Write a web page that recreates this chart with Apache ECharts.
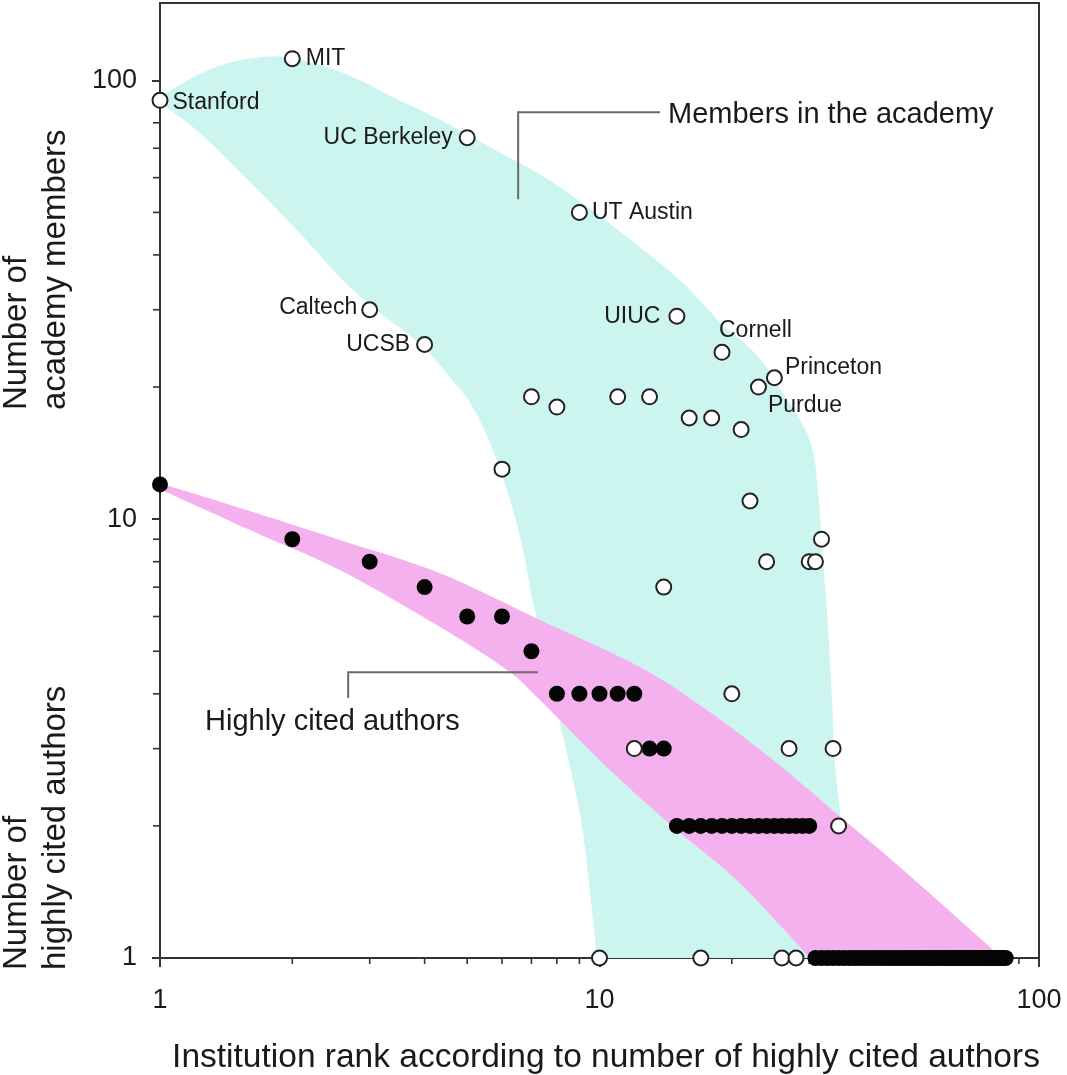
<!DOCTYPE html>
<html><head><meta charset="utf-8">
<script src="https://cdn.jsdelivr.net/npm/echarts@6/dist/echarts.min.js"></script>
<style>html,body{margin:0;padding:0;background:#fff}#c{width:1067px;height:1075px}</style>
</head><body><div id="c"></div>
<script>
const FONT = '"Liberation Sans", Arial, Helvetica, sans-serif';

// Academy members (open circles): institution rank vs number of academy members
const academyRanks   = [1, 2, 3, 4, 5, 6, 7, 8, 9, 10, 11, 12, 13, 14, 15, 16, 17, 18, 19, 20, 21, 22, 23, 24, 25, 26, 27, 28, 30, 31, 32, 34, 35];
const academyMembers = [90, 112, 30, 25, 74, 13, 19, 18, 50, 1, 19, 3, 19, 7, 29, 17, 1, 17, 24, 4, 16, 11, 20, 8, 21, 1, 3, 1, 8, 8, 9, 3, 2];
const academyNames   = ['Stanford', 'MIT', 'Caltech', 'UCSB', 'UC Berkeley', '', '', '', 'UT Austin', '', '', '', '', '', 'UIUC', '', '', '', 'Cornell', '', '', '', 'Purdue', '', 'Princeton', '', '', '', '', '', '', '', ''];

// Highly cited authors (filled dots)
const citedRanks = [1, 2, 3, 4, 5, 6, 7, 8, 9, 10, 11, 12, 13, 14, 15, 16, 17, 18, 19, 20,
  21, 22, 23, 24, 25, 26, 27, 28, 29, 30, 31, 32, 33, 34, 35, 36, 37, 38, 39, 40,
  41, 42, 43, 44, 45, 46, 47, 48, 49, 50, 51, 52, 53, 54, 55, 56, 57, 58, 59, 60,
  61, 62, 63, 64, 65, 66, 67, 68, 69, 70, 71, 72, 73, 74, 75, 76, 77, 78, 79, 80,
  81, 82, 83, 84];
const citedAuthors = [12, 9, 8, 7, 6, 6, 5, 4, 4, 4, 4, 4, 3, 3, 2, 2, 2, 2, 2, 2,
  2, 2, 2, 2, 2, 2, 2, 2, 2, 2, 1, 1, 1, 1, 1, 1, 1, 1, 1, 1,
  1, 1, 1, 1, 1, 1, 1, 1, 1, 1, 1, 1, 1, 1, 1, 1, 1, 1, 1, 1,
  1, 1, 1, 1, 1, 1, 1, 1, 1, 1, 1, 1, 1, 1, 1, 1, 1, 1, 1, 1,
  1, 1, 1, 1];

// Shaded envelopes: outer and inner edges, each from the left tip to the bottom axis ([rank, count])
const academyBandUpper = [
  [1, 91.5], [1.189, 101.6], [1.42, 109.3], [1.689, 112.8], [1.945, 112.8], [2.399, 107.1], [2.852, 100],
  [3.39, 91.5], [4.051, 84.1], [4.815, 76.9], [5.634, 70.4], [8.13, 57.1], [13.73, 38.3], [16.93, 31.5],
  [18.8, 28.1], [22.83, 23.6], [26.16, 19.36], [30.13, 15.1], [31.42, 11.5], [32.25, 8.07], [33.11, 5.68],
  [33.81, 3.87], [34.35, 2.72], [35.26, 2.17], [36.2, 1.59], [37.15, 1]
];
const academyBandLower = [
  [1, 88.6], [1.189, 78.2], [1.406, 66.8], [1.689, 55.6], [2.08, 44.8], [2.57, 35.5], [3.05, 30.4],
  [3.65, 26.5], [4.05, 24.2], [4.57, 21.06], [5.15, 17.99], [5.72, 14.36], [6.26, 11.05], [6.7, 8.5],
  [7.06, 6.44], [7.52, 5.03], [8.01, 3.67], [8.57, 2.72], [9.17, 1.93], [9.87, 1]
];
const citedBandUpper = [
  [1, 12.08], [1.602, 10.43], [2.57, 8.96], [4.336, 7.53], [7.32, 5.89], [12.37, 4.6], [17.56, 3.67],
  [24.82, 2.825], [35.26, 2.1], [48.28, 1.61], [78.6, 1.043], [81.5, 1]
];
const citedBandLower = [
  [1, 11.7], [1.602, 9.44], [2.57, 7.65], [4.336, 5.68], [6.16, 4.53], [7.32, 3.87], [10.4, 2.72],
  [14.7, 1.99], [20.88, 1.48], [30.13, 1]
];

// Annotation brackets (data coordinates)
const membersBracket = [[13.73, 84.6], [6.53, 84.6], [6.53, 53.6]];
const membersLabelAt = [14.32, 83.2];
const membersLabel = 'Members in the academy';
const citedBracket = [[7.24, 4.48], [2.68, 4.48], [2.68, 3.91]];
const citedLabelAt = [1.266, 3.45];
const citedLabel = 'Highly cited authors';

// Axis ticks
const majorTicks = [1, 10, 100];
const xMinorTicks = [2, 3, 4, 5, 6, 7, 8, 9, 20, 30, 40, 50, 60, 70, 80, 90];
const yMinorTicks = [2, 3, 4, 5, 6, 7, 8, 9, 20, 30, 40, 50, 60, 70, 80, 90];

const xTitle = 'Institution rank according to number of highly cited authors';
const yTitleTop = ['Number of', 'academy members'];
const yTitleBottom = ['Number of', 'highly cited authors'];

const labelPlacement = {
  'Stanford':   {position: 'right', distance: 4, offset: [0, 2]},
  'MIT':        {position: 'right', distance: 5},
  'UC Berkeley':{position: 'left', distance: 6},
  'UT Austin':  {position: 'right', distance: 4},
  'Caltech':    {position: 'left', distance: 4, offset: [0, -2]},
  'UCSB':       {position: 'left', distance: 6},
  'UIUC':       {position: 'left', distance: 8},
  'Cornell':    {position: 'top', distance: 2, align: 'left', offset: [-3, 0]},
  'Princeton':  {position: 'right', distance: 2, offset: [0, -10]},
  'Purdue':     {position: 'right', distance: 1, offset: [0, 19]}
};

const TEXT = '#1a1a1a';
const AXIS = '#333';

// smooth outline through pixel points (Catmull-Rom), purely for drawing the edge curve
function smoothPath(pts) {
  const out = [];
  const n = pts.length;
  for (let i = 0; i < n - 1; i++) {
    const p0 = pts[Math.max(i - 1, 0)], p1 = pts[i], p2 = pts[i + 1], p3 = pts[Math.min(i + 2, n - 1)];
    const steps = 10;
    for (let s = 0; s < steps; s++) {
      const t = s / steps, t2 = t * t, t3 = t2 * t;
      out.push([
        0.5 * ((2 * p1[0]) + (-p0[0] + p2[0]) * t + (2 * p0[0] - 5 * p1[0] + 4 * p2[0] - p3[0]) * t2 + (-p0[0] + 3 * p1[0] - 3 * p2[0] + p3[0]) * t3),
        0.5 * ((2 * p1[1]) + (-p0[1] + p2[1]) * t + (2 * p0[1] - 5 * p1[1] + 4 * p2[1] - p3[1]) * t2 + (-p0[1] + 3 * p1[1] - 3 * p2[1] + p3[1]) * t3)
      ]);
    }
  }
  out.push(pts[n - 1]);
  return out;
}

function bandSeries(upper, lower, color, z) {
  return {
    type: 'custom', coordinateSystem: 'cartesian2d', data: [[1, 1]], silent: true, z: z, clip: true,
    renderItem: function (params, api) {
      const up = smoothPath(upper.map(function (p) { return api.coord(p); }));
      const lo = smoothPath(lower.map(function (p) { return api.coord(p); }));
      return {
        type: 'polygon',
        shape: {points: up.concat(lo.reverse())},
        style: {fill: color, stroke: null}
      };
    }
  };
}

const academyData = academyRanks.map(function (r, i) {
  const name = academyNames[i];
  const item = {value: [r, academyMembers[i]], name: name};
  if (name) {
    item.label = Object.assign({show: true, formatter: name, fontSize: 23, fontFamily: FONT, color: TEXT}, labelPlacement[name]);
  }
  return item;
});
const citedData = citedRanks.map(function (r, i) { return [r, citedAuthors[i]]; });

function rotatedText(text, cx, y0, size) {
  return {
    type: 'text', x: cx, y: y0, rotation: Math.PI / 2, silent: true,
    style: {text: text, font: size + 'px ' + FONT, fill: TEXT, align: 'left', verticalAlign: 'middle', textAlign: 'left', textVerticalAlign: 'middle'}
  };
}

const option = {
  animation: false,
  backgroundColor: '#fff',
  grid: {left: 160, right: 28, top: 3, bottom: 117, show: true, borderColor: AXIS, borderWidth: 2, backgroundColor: 'transparent'},
  xAxis: {
    type: 'log', logBase: 10, min: 1, max: 100,
    axisLine: {show: true, lineStyle: {color: AXIS, width: 2}},
    axisTick: {show: true, length: 9, lineStyle: {color: AXIS, width: 2}, customValues: majorTicks},
    axisLabel: {fontSize: 27, fontFamily: FONT, color: TEXT, margin: 29, customValues: majorTicks},
    splitLine: {show: false}, minorTick: {show: false}, minorSplitLine: {show: false}
  },
  yAxis: {
    type: 'log', logBase: 10, min: 1, max: 150,
    axisLine: {show: true, lineStyle: {color: AXIS, width: 2}},
    axisTick: {show: true, length: 8, lineStyle: {color: AXIS, width: 2}, customValues: majorTicks},
    axisLabel: {fontSize: 27, fontFamily: FONT, color: TEXT, margin: 23, customValues: majorTicks},
    splitLine: {show: false}, minorTick: {show: false}, minorSplitLine: {show: false}
  },
  graphic: [
    rotatedText(yTitleTop[0], 17, 410, 33),
    rotatedText(yTitleTop[1], 56, 410, 33),
    rotatedText(yTitleBottom[0], 17, 970, 33),
    rotatedText(yTitleBottom[1], 56, 970, 33),
    {type: 'text', x: 606, y: 1058, silent: true,
     style: {text: xTitle, font: '33.5px ' + FONT, fill: TEXT, align: 'center', verticalAlign: 'middle', textAlign: 'center', textVerticalAlign: 'middle'}}
  ],
  series: [
    bandSeries(academyBandUpper, academyBandLower, '#cdf5f0', 1),
    bandSeries(citedBandUpper, citedBandLower, '#f5b0ee', 2),
    {
      type: 'custom', coordinateSystem: 'cartesian2d', data: [[1, 1]], silent: true, z: 3, clip: false,
      renderItem: function (params, api) {
        function poly(pts) {
          return {type: 'polyline', shape: {points: pts.map(function (p) { return api.coord(p); })},
                  style: {stroke: '#6a6a6a', lineWidth: 2, fill: null}};
        }
        function txt(s, at) {
          const p = api.coord(at);
          return {type: 'text', x: p[0], y: p[1],
                  style: {text: s, font: '29px ' + FONT, fill: TEXT, align: 'left', verticalAlign: 'middle', textAlign: 'left', textVerticalAlign: 'middle'}};
        }
        return {type: 'group', children: [
          poly(membersBracket), poly(citedBracket),
          txt(membersLabel, membersLabelAt), txt(citedLabel, citedLabelAt)
        ]};
      }
    },
    {
      type: 'custom', coordinateSystem: 'cartesian2d', data: [[1, 1]], silent: true, z: 3, clip: false,
      renderItem: function (params, api) {
        const children = [];
        xMinorTicks.forEach(function (v) {
          const p = api.coord([v, 1]);
          children.push({type: 'line', shape: {x1: p[0], y1: p[1], x2: p[0], y2: p[1] + 6}, style: {stroke: AXIS, lineWidth: 1.6}});
        });
        yMinorTicks.forEach(function (v) {
          const p = api.coord([1, v]);
          children.push({type: 'line', shape: {x1: p[0] - 7, y1: p[1], x2: p[0], y2: p[1]}, style: {stroke: AXIS, lineWidth: 1.6}});
        });
        return {type: 'group', children: children};
      }
    },
    {
      name: 'Highly cited authors', type: 'scatter', data: citedData, clip: false, z: 4,
      symbol: 'circle', symbolSize: 16, itemStyle: {color: '#050505', opacity: 1}
    },
    {
      name: 'Members in the academy', type: 'scatter', data: academyData, clip: false, z: 5,
      symbol: 'circle', symbolSize: 15,
      itemStyle: {color: '#ffffff', borderColor: '#222', borderWidth: 2, opacity: 1},
      label: {show: false}
    }
  ]
};

const chart = echarts.init(document.getElementById('c'), null, {renderer: 'canvas'});
chart.setOption(option);
</script>
</body></html>
